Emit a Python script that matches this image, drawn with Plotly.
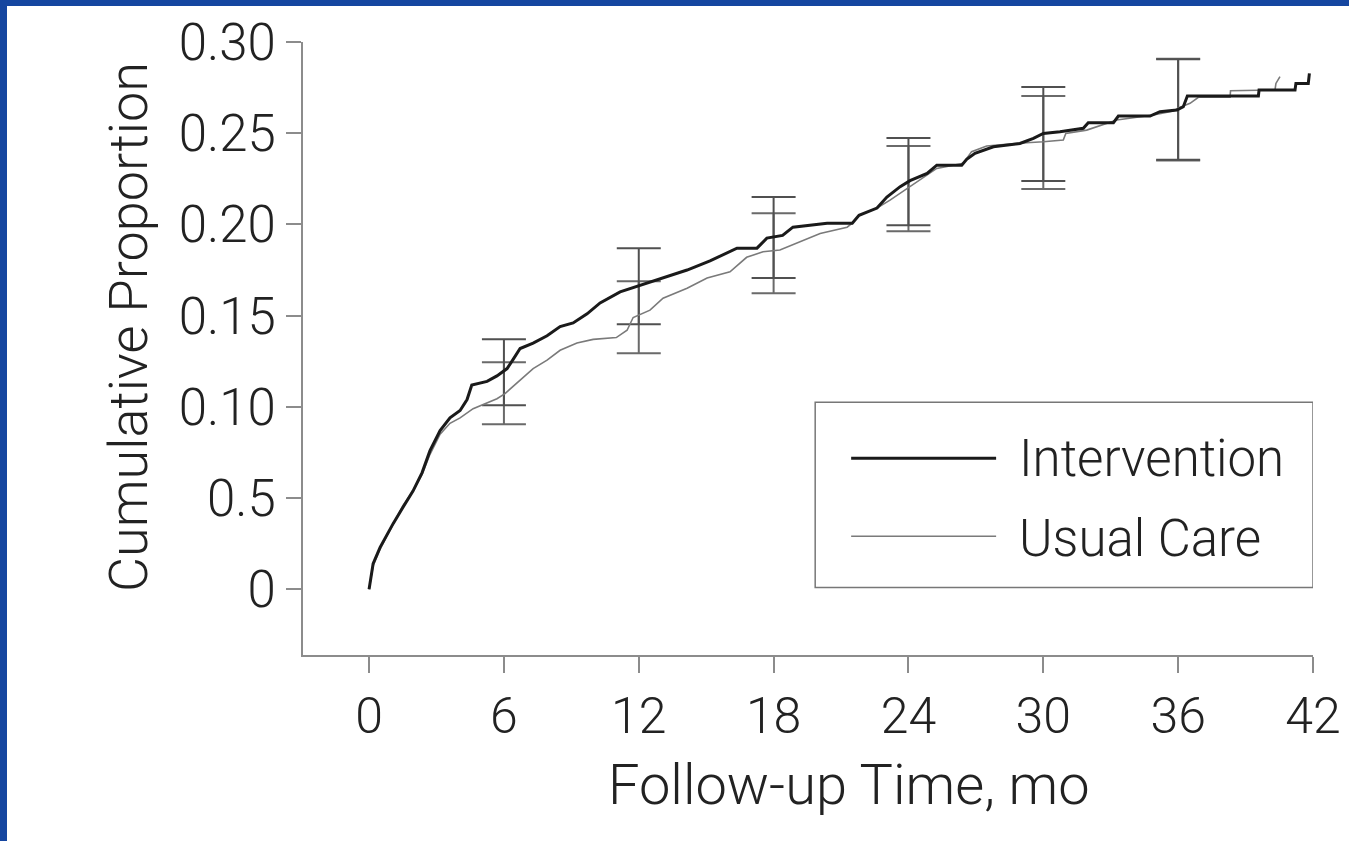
import plotly.graph_objects as go

# ---------------- data ----------------
int_t = [0, 0.18, 0.49, 1.07, 1.51, 1.96, 2.36, 2.71, 3.16, 3.6, 4.05, 4.36, 4.57, 5.25, 5.69,
         6.14, 6.41, 6.72, 7.3, 7.92, 8.5, 9.08, 9.7, 10.28, 11.17, 12.06, 13.08, 14.15, 15.17,
         16.37, 17.26, 17.7, 18.4, 18.86, 20.38, 21.5, 21.8, 22.6, 23.04, 23.63, 24.07, 24.83,
         25.26, 26.37, 26.59, 26.96, 27.78, 28.96, 29.56, 30.0, 30.74, 31.78, 32.0, 33.12, 33.34,
         34.75, 35.19, 35.94, 36.23, 36.41, 39.57, 39.6, 41.2, 41.24, 41.79, 41.84]
int_v = [0, 0.014, 0.023, 0.036, 0.045, 0.054, 0.064, 0.076, 0.087, 0.094, 0.098, 0.104, 0.112,
         0.114, 0.117, 0.121, 0.126, 0.132, 0.135, 0.139, 0.144, 0.146, 0.151, 0.157, 0.163, 0.1667,
         0.1706, 0.175, 0.180, 0.187, 0.187, 0.1925, 0.194, 0.1985, 0.2007, 0.2007, 0.205, 0.209,
         0.215, 0.2207, 0.224, 0.228, 0.2325, 0.2325, 0.2357, 0.2390, 0.2426, 0.2444, 0.2472,
         0.2499, 0.2508, 0.2527, 0.2558, 0.2558, 0.2594, 0.2594, 0.2618, 0.2627, 0.2645, 0.2704,
         0.2704, 0.2737, 0.2737, 0.2773, 0.2773, 0.2828]

uc_t = [0, 0.18, 0.49, 1.07, 1.51, 1.96, 2.36, 2.71, 3.16, 3.6, 4.05, 4.63, 5.25, 5.69, 6.05,
        6.72, 7.3, 7.92, 8.5, 9.25, 9.97, 11.0, 11.48, 11.75, 12.5, 13.08, 14.15, 15.04, 16.06,
        16.8, 17.53, 18.28, 19.04, 20.07, 21.27, 21.5, 21.8, 22.6, 23.18, 23.63, 25.26, 26.44,
        26.81, 27.48, 28.5, 29.26, 30.0, 30.89, 31.0, 31.93, 33.27, 33.86, 34.9, 35.79, 36.0,
        36.53, 36.9, 38.31, 38.33, 40.31, 40.35, 40.53]
uc_v = [0, 0.013, 0.022, 0.036, 0.046, 0.054, 0.063, 0.074, 0.085, 0.091, 0.094, 0.099, 0.102,
        0.1045, 0.1073, 0.1146, 0.121, 0.1256, 0.131, 0.135, 0.137, 0.138, 0.142, 0.149, 0.153,
        0.1596, 0.165, 0.1706, 0.174, 0.182, 0.185, 0.186, 0.190, 0.195, 0.1985, 0.2007, 0.205,
        0.209, 0.2133, 0.2170, 0.2307, 0.2335, 0.2399, 0.2430, 0.2441, 0.2448, 0.2453, 0.2463,
        0.2499, 0.2517, 0.2572, 0.2581, 0.2600, 0.2622, 0.2638, 0.2664, 0.2697, 0.2697, 0.2733,
        0.2737, 0.2773, 0.2810]

ci_t = [6, 12, 18, 24, 30, 36]
int_lo = [0.1009, 0.1453, 0.1706, 0.1996, 0.2238, 0.2355]
int_hi = [0.1371, 0.1870, 0.2150, 0.2474, 0.2753, 0.2905]
uc_lo = [0.0905, 0.1294, 0.1623, 0.1963, 0.2194, 0.2350]
uc_hi = [0.1245, 0.1689, 0.2062, 0.2430, 0.2704, 0.2908]

x_ticks = [0, 6, 12, 18, 24, 30, 36, 42]
y_ticks = [0.30, 0.25, 0.20, 0.15, 0.10, 0.05, 0]
y_ticktext = ["0.30", "0.25", "0.20", "0.15", "0.10", "0.5", "0"]
series_names = ["Intervention", "Usual Care"]

# ---------------- styling ----------------
W, H = 1349, 841
ML, MR, MT, MB = 303, 36, 42, 186
FONT = "Roboto"
FW = 300
AX = "#8c8c8c"
TXT = "#222222"
BLUE = "#1546a0"

fig = go.Figure()

def ci_trace(lo, hi, color):
    mid = [(a + b) / 2 for a, b in zip(lo, hi)]
    err = [b - m for b, m in zip(hi, mid)]
    return go.Scatter(x=ci_t, y=mid, mode="markers",
                      marker=dict(size=1, color="rgba(0,0,0,0)"),
                      error_y=dict(type="data", array=err, visible=True,
                                   color=color, thickness=2, width=22),
                      showlegend=False, hoverinfo="skip")

fig.add_trace(ci_trace(uc_lo, uc_hi, "#6a6a6a"))
fig.add_trace(ci_trace(int_lo, int_hi, "#505050"))

fig.add_trace(go.Scatter(x=uc_t, y=uc_v, mode="lines", name=series_names[1],
                         line=dict(color="#7a7a7a", width=1.6), showlegend=False))
fig.add_trace(go.Scatter(x=int_t, y=int_v, mode="lines", name=series_names[0],
                         line=dict(color="#1a1a1a", width=3), showlegend=False))

pw = W - ML - MR
ph = H - MT - MB

def pxx(p):
    return (p - ML) / pw

def pxy(p):
    return (H - MB - p) / ph

shapes = [
    # blue frame (left and top)
    dict(type="rect", xref="paper", yref="paper", x0=pxx(0), x1=pxx(7), y0=pxy(H), y1=pxy(0),
         fillcolor=BLUE, line=dict(width=0), layer="above"),
    dict(type="rect", xref="paper", yref="paper", x0=pxx(0), x1=pxx(W), y0=pxy(6), y1=pxy(0),
         fillcolor=BLUE, line=dict(width=0), layer="above"),
    # legend box
    dict(type="rect", xref="x", yref="y", x0=19.85, x1=42.0, y0=0.001, y1=0.1026,
         line=dict(color="#777777", width=1.5), fillcolor="rgba(0,0,0,0)"),
    dict(type="line", xref="x", yref="y", x0=21.45, x1=27.9, y0=0.0718, y1=0.0718,
         line=dict(color="#1a1a1a", width=3)),
    dict(type="line", xref="x", yref="y", x0=21.45, x1=27.9, y0=0.0291, y1=0.0291,
         line=dict(color="#7a7a7a", width=1.6)),
]

annotations = [
    dict(text=series_names[0], x=28.85, y=0.0718, xref="x", yref="y", xanchor="left",
         yanchor="middle", showarrow=False, font=dict(family=FONT, weight=FW, size=51, color=TXT)),
    dict(text=series_names[1], x=28.85, y=0.0280, xref="x", yref="y", xanchor="left",
         yanchor="middle", showarrow=False, font=dict(family=FONT, weight=FW, size=51, color=TXT)),
    dict(text="Follow-up Time, mo", x=pxx(849), y=pxy(785), xref="paper", yref="paper",
         xanchor="center", yanchor="middle", showarrow=False,
         font=dict(family=FONT, weight=FW, size=56, color=TXT)),
    dict(text="Cumulative Proportion", x=pxx(128), y=pxy(327), xref="paper", yref="paper",
         xanchor="center", yanchor="middle", showarrow=False, textangle=-90,
         font=dict(family=FONT, weight=FW, size=54, color=TXT)),
]

fig.update_layout(
    width=W, height=H,
    margin=dict(l=ML, r=MR, t=MT, b=MB, pad=0),
    paper_bgcolor="white", plot_bgcolor="white",
    font=dict(family=FONT, weight=FW, color=TXT),
    shapes=shapes, annotations=annotations, showlegend=False,
    xaxis=dict(range=[-2.94, 42], tickvals=x_ticks, ticktext=[str(v) for v in x_ticks],
               showline=True, linecolor=AX, linewidth=2, ticks="outside", ticklen=16,
               tickwidth=2, tickcolor=AX, showgrid=False, zeroline=False, automargin=False,
               tickfont=dict(family=FONT, weight=FW, size=50, color=TXT)),
    yaxis=dict(range=[-0.036, 0.30], tickvals=y_ticks, ticktext=y_ticktext,
               showline=True, linecolor=AX, linewidth=2, ticks="outside", ticklen=15,
               tickwidth=2, tickcolor=AX, showgrid=False, zeroline=False, automargin=False,
               tickfont=dict(family=FONT, weight=FW, size=51, color=TXT)),
)

fig.write_html("out.html", config={"displayModeBar": False},
               post_script="document.body.style.margin='0px';document.body.style.overflow='hidden';")
